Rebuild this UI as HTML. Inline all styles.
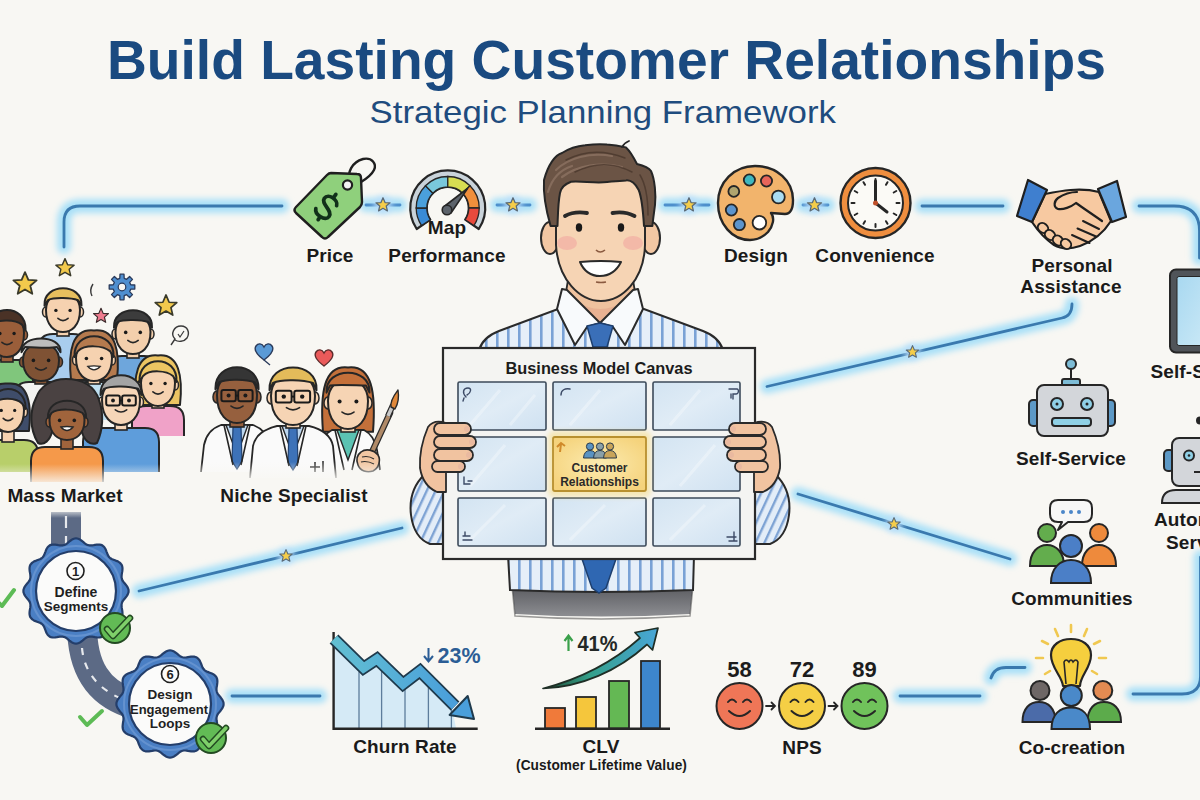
<!DOCTYPE html>
<html><head><meta charset="utf-8"><title>Build Lasting Customer Relationships</title>
<style>
html,body{margin:0;padding:0;background:#f8f7f3;width:1200px;height:800px;overflow:hidden}
svg{display:block}
text{font-family:"Liberation Sans",sans-serif}
.lb{font-weight:bold;fill:#1a1a1a;font-size:19px;text-anchor:middle;letter-spacing:0.1px}
.gl{fill:none;stroke:#a9e0f8;stroke-width:14;stroke-linecap:round;opacity:1}
.ln{fill:none;stroke:#3a79ae;stroke-width:2.8;stroke-linecap:round}
.ol{stroke:#2a2a2a;stroke-width:2;stroke-linejoin:round;stroke-linecap:round}
</style></head><body>
<svg width="1200" height="800" viewBox="0 0 1200 800">
<defs>
 <filter id="blur" x="-20%" y="-50%" width="140%" height="200%"><feGaussianBlur stdDeviation="2.5"/></filter>
 <filter id="blurL" x="-5%" y="-5%" width="110%" height="110%" filterUnits="userSpaceOnUse"><feGaussianBlur stdDeviation="3"/></filter>
 <filter id="blur6" x="-30%" y="-30%" width="160%" height="160%"><feGaussianBlur stdDeviation="6"/></filter>
 <symbol id="star2" viewBox="-10 -10 20 20"><path d="M0,-8.5 L2.4,-2.9 8.3,-2.6 3.8,1.2 5.2,7 0,3.9 -5.2,7 -3.8,1.2 -8.3,-2.6 -2.4,-2.9Z" fill="#f5cd4a" stroke="#5b6b78" stroke-width="1.5" stroke-linejoin="round"/></symbol>
 <symbol id="star" viewBox="-10 -10 20 20"><path d="M0,-8.5 L2.4,-2.9 8.3,-2.6 3.8,1.2 5.2,7 0,3.9 -5.2,7 -3.8,1.2 -8.3,-2.6 -2.4,-2.9Z" fill="#f2c94c" stroke="#3a3a2a" stroke-width="1.3" stroke-linejoin="round"/></symbol>
</defs>
<rect width="1200" height="800" fill="#f8f7f3"/>

<!-- TITLE -->
<text x="107" y="79" font-size="56" font-weight="bold" fill="#1a4a80" textLength="999" lengthAdjust="spacingAndGlyphs">Build Lasting Customer Relationships</text>
<text x="369.5" y="123" font-size="32" fill="#1f4c7e" textLength="466.5" lengthAdjust="spacingAndGlyphs">Strategic Planning Framework</text>

<!-- CONNECTOR LINES (glow + line) -->
<g id="lines">
 <g filter="url(#blurL)">
  <path class="gl" d="M64,247 V222 Q64,206 80,206 H282"/>
  <path class="gl" d="M366,205 H400 M497,205 H530 M665,205 H709 M803,205 H828"/>
  <path class="gl" d="M922,206 H1003"/>
  <path class="gl" d="M1139,206 H1174 Q1199.5,206 1199.5,231 V258"/>
  <path class="gl" d="M1072,304 Q1072,316 1062,318 L767,386.5"/>
  <path class="gl" d="M798,494 L1010,559"/>
  <path class="gl" d="M139,591 L402,528"/>
  <path class="gl" d="M232,696 H320"/>
  <path class="gl" d="M900,696 H980 M991,678 Q994,667.5 1006,667.5 H1025"/>
  <path class="gl" d="M1133,694 H1182 Q1200.5,694 1200.5,676 V557"/>
 </g>
 <path class="ln" d="M64,247 V222 Q64,206 80,206 H282"/>
 <path class="ln" d="M366,205 H400 M497,205 H530 M665,205 H709 M803,205 H828" stroke-width="1.8" style="stroke:#4d8fcc"/>
 <path class="ln" d="M922,206 H1003"/>
 <path class="ln" d="M1139,206 H1174 Q1199.5,206 1199.5,231 V258"/>
 <path class="ln" d="M1072,304 Q1072,316 1062,318 L767,386.5"/>
 <path class="ln" d="M798,494 L1010,559"/>
 <path class="ln" d="M139,591 L402,528"/>
 <path class="ln" d="M232,696 H320"/>
 <path class="ln" d="M900,696 H980 M991,678 Q994,667.5 1006,667.5 H1025"/>
 <path class="ln" d="M1133,694 H1182 Q1200.5,694 1200.5,676 V557"/>
</g>
<!-- stars on lines -->
<g filter="url(#blurL)" fill="#b9defa">
 <circle cx="383" cy="205" r="9"/><circle cx="513" cy="205" r="9"/><circle cx="689" cy="205" r="9"/><circle cx="814.5" cy="205" r="9"/>
 <circle cx="912.5" cy="352" r="8"/><circle cx="894" cy="524" r="8"/><circle cx="286" cy="556" r="8"/>
</g>
<use href="#star2" x="374.5" y="196.5" width="17" height="17"/>
<use href="#star2" x="504.5" y="196.5" width="17" height="17"/>
<use href="#star2" x="680.5" y="196.5" width="17" height="17"/>
<use href="#star2" x="806" y="196.5" width="17" height="17"/>
<use href="#star2" x="905" y="344.5" width="15" height="15"/>
<use href="#star2" x="886.5" y="516.5" width="15" height="15"/>
<use href="#star2" x="278.5" y="548.5" width="15" height="15"/>

<!-- PRICE TAG -->
<g id="tag" stroke="#1f1f1f" stroke-linejoin="round" stroke-linecap="round">
 <path d="M349,184 C347,172 352,162 363,159 C372,157 377,164 374,170 C371,176 366,179 361,182" fill="none" stroke-width="2.4"/>
 <path d="M331,173 L357,174 Q361,174 361,178 L362,202 Q362,205 360,207 L328,237 Q325,240 322,237 L296,213 Q293,210 296,207 L327,175 Q329,173 331,173 Z" fill="#8fd07c" stroke-width="2.4"/>
 <circle cx="347.5" cy="185" r="4.6" fill="#f4f1f4" stroke-width="2.2"/>
 <path transform="translate(327,207) rotate(35) scale(1.1)" d="M6.5,-6 C5,-11 -6.5,-11.5 -6.5,-5 C-6.5,1 6.5,-0.5 6.5,6 C6.5,12 -5.5,12 -7.5,7 M0,-14 V-10 M0,10.5 V14" fill="none" stroke="#11301a" stroke-width="3.4"/>
</g>
<!-- GAUGE -->
<g id="gauge">
<path d="M416.7,229.0 A37.5,37.5 0 1 1 478.8,229.0 L465.2,219.7 A21,21 0 1 0 430.3,219.7 Z" fill="#c9d3da" stroke="#262626" stroke-width="2.2" stroke-linejoin="round"/>
<path d="M421.6,225.6 A31.5,31.5 0 0 1 416.2,208.0 L426.8,208.0 A21,21 0 0 0 430.3,219.7 Z" fill="#3a8bd6" stroke="#262626" stroke-width="1.3"/>
<path d="M416.2,208.0 A31.5,31.5 0 0 1 425.5,185.7 L432.9,193.2 A21,21 0 0 0 426.8,208.0 Z" fill="#4aa0dc" stroke="#262626" stroke-width="1.3"/>
<path d="M425.5,185.7 A31.5,31.5 0 0 1 447.8,176.5 L447.8,187.0 A21,21 0 0 0 432.9,193.2 Z" fill="#79c8dc" stroke="#262626" stroke-width="1.3"/>
<path d="M447.8,176.5 A31.5,31.5 0 0 1 470.0,185.7 L462.6,193.2 A21,21 0 0 0 447.8,187.0 Z" fill="#d7dd52" stroke="#262626" stroke-width="1.3"/>
<path d="M470.0,185.7 A31.5,31.5 0 0 1 479.2,208.0 L468.8,208.0 A21,21 0 0 0 462.6,193.2 Z" fill="#f08f3c" stroke="#262626" stroke-width="1.3"/>
<path d="M479.2,208.0 A31.5,31.5 0 0 1 473.9,225.6 L465.2,219.7 A21,21 0 0 0 468.8,208.0 Z" fill="#e84a3c" stroke="#262626" stroke-width="1.3"/>
<path d="M443.5,207 L467.5,188.5 L451,213 Z" fill="#5c636b" stroke="#262626" stroke-width="1.6" stroke-linejoin="round"/>
<circle cx="447" cy="210" r="4.8" fill="#5c636b" stroke="#262626" stroke-width="1.6"/>
</g>
<!-- PALETTE -->
<g id="palette">
 <path d="M755,166 C777,166 793,181 793,200 C793,209 790,214 785,214 L771,213 C775,218 773,226 768,232 C762,238 757,240 750,240 C732,240 718,224 718,203 C718,182 734,166 755,166 Z" fill="#f2b46c" stroke="#262626" stroke-width="2.4" stroke-linejoin="round"/>
 <g stroke="#262626" stroke-width="1.8">
  <circle cx="749.4" cy="180" r="5.6" fill="#3fb7bf"/>
  <circle cx="766.5" cy="181" r="5.6" fill="#e8655a"/>
  <circle cx="733.8" cy="191.4" r="5.4" fill="#b0a46e"/>
  <circle cx="778.4" cy="197" r="6.4" fill="#a9dcf2"/>
  <circle cx="731.4" cy="210" r="5.6" fill="#5c94cc"/>
  <circle cx="739.4" cy="224.6" r="5.6" fill="#5c94cc"/>
  <circle cx="759.4" cy="222.7" r="6.8" fill="#ffffff"/>
 </g>
</g>
<!-- CLOCK -->
<g id="clock">
 <circle cx="875.5" cy="203" r="35" fill="#ef8e3f" stroke="#262626" stroke-width="2.4"/>
 <circle cx="875.5" cy="203" r="27.5" fill="#fbfaf6" stroke="#262626" stroke-width="2"/>
 <g stroke="#262626" stroke-width="2" stroke-linecap="round">
  <path d="M875.5,179 v3 M875.5,224 v3 M851.5,203 h3 M896.5,203 h3 M887.5,182.2 l-1.5,2.6 M896.3,191 l-2.6,1.5 M896.3,215 l-2.6,-1.5 M887.5,223.8 l-1.5,-2.6 M863.5,223.8 l1.5,-2.6 M854.7,215 l2.6,-1.5 M854.7,191 l2.6,1.5 M863.5,182.2 l1.5,2.6"/>
  <path d="M875.5,203 V181" stroke-width="3"/>
  <path d="M875.5,203 L887,212" stroke-width="3"/>
 </g>
 <circle cx="875.5" cy="203" r="2.5" fill="#c0502a"/>
</g>
<!-- HANDSHAKE -->
<g id="handshake" stroke="#1f1f1f" stroke-width="2.2" stroke-linejoin="round" stroke-linecap="round">
 <path d="M1045,194 C1060,191 1080,187 1099,192 L1111,221 C1104,232 1094,241 1080,246 C1071,249 1061,249 1054,245 C1045,239 1038,231 1032,222 Z" fill="#f7c9a1"/>
 <path d="M1102,221 C1092,214 1083,208 1076,203 C1071,207 1063,210 1058,209 C1053,207 1054,201 1058,198 C1064,194 1070,192 1077,192" fill="#f7c9a1"/>
 <g fill="#f7c9a1" stroke-width="2">
  <ellipse cx="1043" cy="228" rx="5.5" ry="4.6" transform="rotate(40 1043 228)"/>
  <ellipse cx="1050" cy="235" rx="5.5" ry="4.6" transform="rotate(40 1050 235)"/>
  <ellipse cx="1058" cy="240.5" rx="5.5" ry="4.6" transform="rotate(40 1058 240.5)"/>
  <ellipse cx="1066" cy="244" rx="5.5" ry="4.6" transform="rotate(40 1066 244)"/>
 </g>
 <path d="M1083,221 L1099,229 M1077.5,228.5 L1096,236.5 M1072,235 L1089.5,243" fill="none" stroke-width="2"/>
 <path d="M1028,180 L1047,190 L1032,222 L1017,216 Z" fill="#3f7fcf"/>
 <path d="M1098,189 L1117,181 L1126,217 L1112,222 Z" fill="#6aa6de"/>
</g>
<!-- MONITOR (right edge) -->
<g id="monitor">
 <defs><linearGradient id="scr" x1="0" y1="0" x2="1" y2="1"><stop offset="0" stop-color="#a8d8f0"/><stop offset="1" stop-color="#cdeaf7"/></linearGradient></defs>
 <rect x="1170" y="269.5" width="45" height="83" rx="6" fill="#505459" stroke="#262626" stroke-width="2"/>
 <rect x="1177" y="276.5" width="35" height="69" rx="2" fill="url(#scr)" stroke="#262626" stroke-width="1"/>
</g>

<!-- CROWD -->
<g id="crowd"><!--CROWD_START-->
<g><path d="M-19.0,400 V374.0 Q-19.0,360.0 -5.0,360.0 H19.0 Q33.0,360.0 33.0,374.0 V400" fill="#80c67c" stroke="#262626" stroke-width="2" stroke-linejoin="round"/><rect x="1" y="353" width="12" height="9" fill="#9a5e3a" stroke="#262626" stroke-width="1.6"/><ellipse cx="-10" cy="335" rx="3.5" ry="5" fill="#9a5e3a" stroke="#262626" stroke-width="1.5"/><ellipse cx="24" cy="335" rx="3.5" ry="5" fill="#9a5e3a" stroke="#262626" stroke-width="1.5"/><path d="M-10.0,333.0 C-10.0,307.8 24.0,307.8 24.0,333.0 C24.0,351.0 14.7,357.0 7.0,357.0 C-0.7,357.0 -10.0,351.0 -10.0,333.0 Z" fill="#9a5e3a" stroke="#262626" stroke-width="2"/><path d="M-11.5,330.6 C-13.0,303.0 27.0,303.0 25.5,330.6 L22.0,324.6 C15.5,319.8 -1.5,318.6 -8.0,324.6 Z" fill="#4a3226" stroke="#262626" stroke-width="2" stroke-linejoin="round"/><circle cx="-0.1" cy="333.5" r="1.7" fill="#1a1a1a"/><circle cx="14.1" cy="333.5" r="1.7" fill="#1a1a1a"/><path d="M1.9,342.3 Q7.0,346.8 12.1,342.3" fill="none" stroke="#262626" stroke-width="1.6" stroke-linecap="round"/></g>
<g><path d="M39.0,390 V348.0 Q39.0,334.0 53.0,334.0 H73.0 Q87.0,334.0 87.0,348.0 V390" fill="#a9cdee" stroke="#262626" stroke-width="2" stroke-linejoin="round"/><rect x="57" y="328" width="12" height="8" fill="#f6d2b0" stroke="#262626" stroke-width="1.6"/><ellipse cx="46" cy="312" rx="3.5" ry="5" fill="#f6d2b0" stroke="#262626" stroke-width="1.5"/><ellipse cx="80" cy="312" rx="3.5" ry="5" fill="#f6d2b0" stroke="#262626" stroke-width="1.5"/><path d="M46.0,310.0 C46.0,286.9 80.0,286.9 80.0,310.0 C80.0,326.5 70.7,332.0 63.0,332.0 C55.4,332.0 46.0,326.5 46.0,310.0 Z" fill="#f6d2b0" stroke="#262626" stroke-width="2"/><path d="M44.5,305.6 C43.0,282.5 83.0,282.5 81.5,305.6 L78.0,300.1 C71.5,297.9 54.5,296.8 48.0,300.1 Z" fill="#e7bf5e" stroke="#262626" stroke-width="2" stroke-linejoin="round"/><circle cx="55.9" cy="310.4" r="1.7" fill="#1a1a1a"/><circle cx="70.1" cy="310.4" r="1.7" fill="#1a1a1a"/><path d="M57.9,318.4 Q63.0,322.9 68.1,318.4" fill="none" stroke="#262626" stroke-width="1.6" stroke-linecap="round"/></g>
<g><path d="M108.0,400 V370.0 Q108.0,356.0 122.0,356.0 H144.0 Q158.0,356.0 158.0,370.0 V400" fill="#6ea6dc" stroke="#262626" stroke-width="2" stroke-linejoin="round"/><rect x="127" y="350" width="12" height="8" fill="#f3cfac" stroke="#262626" stroke-width="1.6"/><ellipse cx="115.5" cy="334" rx="3.5" ry="5" fill="#f3cfac" stroke="#262626" stroke-width="1.5"/><ellipse cx="150.5" cy="334" rx="3.5" ry="5" fill="#f3cfac" stroke="#262626" stroke-width="1.5"/><path d="M115.5,332.0 C115.5,308.9 150.5,308.9 150.5,332.0 C150.5,348.5 140.9,354.0 133.0,354.0 C125.1,354.0 115.5,348.5 115.5,332.0 Z" fill="#f3cfac" stroke="#262626" stroke-width="2"/><path d="M114.0,327.6 C112.5,304.5 153.5,304.5 152.0,327.6 L148.5,322.1 C141.8,319.9 124.2,318.8 117.5,322.1 Z" fill="#3c3c3c" stroke="#262626" stroke-width="2" stroke-linejoin="round"/><circle cx="125.7" cy="332.4" r="1.8" fill="#1a1a1a"/><circle cx="140.3" cy="332.4" r="1.8" fill="#1a1a1a"/><path d="M127.8,340.4 Q133.0,344.9 138.2,340.4" fill="none" stroke="#262626" stroke-width="1.6" stroke-linecap="round"/></g>
<g><path d="M15.0,420 V396.0 Q15.0,382.0 29.0,382.0 H53.0 Q67.0,382.0 67.0,396.0 V420" fill="#f3f3f1" stroke="#262626" stroke-width="2" stroke-linejoin="round"/><rect x="35" y="377" width="12" height="7" fill="#7f5234" stroke="#262626" stroke-width="1.6"/><ellipse cx="23" cy="362" rx="3.5" ry="5" fill="#7f5234" stroke="#262626" stroke-width="1.5"/><ellipse cx="59" cy="362" rx="3.5" ry="5" fill="#7f5234" stroke="#262626" stroke-width="1.5"/><path d="M23.0,360.0 C23.0,337.9 59.0,337.9 59.0,360.0 C59.0,375.8 49.1,381.0 41.0,381.0 C32.9,381.0 23.0,375.8 23.0,360.0 Z" fill="#7f5234" stroke="#262626" stroke-width="2"/><path d="M21.5,352.2 C20.0,333.8 62.0,333.8 60.5,352.2 L57.0,347.0 C50.0,348.4 32.0,347.4 25.0,347.0 Z" fill="#bdbdbd" stroke="#262626" stroke-width="2" stroke-linejoin="round"/><circle cx="33.4" cy="360.4" r="1.8" fill="#1a1a1a"/><circle cx="48.6" cy="360.4" r="1.8" fill="#1a1a1a"/><path d="M35.6,367.9 Q41.0,372.4 46.4,367.9" fill="none" stroke="#262626" stroke-width="1.6" stroke-linecap="round"/></g>
<g><path d="M71.0,379.9 C68.0,351.1 72.0,328.1 94.0,330.4 C116.0,328.1 120.0,351.1 117.0,379.9 Z" fill="#b57a4e" stroke="#262626" stroke-width="2" stroke-linejoin="round"/><path d="M72.0,420 V396.0 Q72.0,382.0 86.0,382.0 H102.0 Q116.0,382.0 116.0,396.0 V420" fill="#bfe0f2" stroke="#262626" stroke-width="2" stroke-linejoin="round"/><rect x="88" y="377" width="12" height="7" fill="#f6d2b0" stroke="#262626" stroke-width="1.6"/><ellipse cx="76" cy="360" rx="3.5" ry="5" fill="#f6d2b0" stroke="#262626" stroke-width="1.5"/><ellipse cx="112" cy="360" rx="3.5" ry="5" fill="#f6d2b0" stroke="#262626" stroke-width="1.5"/><path d="M76.0,358.0 C76.0,333.9 112.0,333.9 112.0,358.0 C112.0,375.2 102.1,381.0 94.0,381.0 C85.9,381.0 76.0,375.2 76.0,358.0 Z" fill="#f6d2b0" stroke="#262626" stroke-width="2"/><path d="M74.5,356.9 C73.0,329.2 115.0,329.2 113.5,356.9 L110.0,351.1 C103.0,345.4 85.0,344.2 78.0,351.1 Z" fill="#b57a4e" stroke="#262626" stroke-width="2" stroke-linejoin="round"/><circle cx="86.4" cy="358.5" r="1.8" fill="#1a1a1a"/><circle cx="101.6" cy="358.5" r="1.8" fill="#1a1a1a"/><path d="M87.7,366.4 Q94.0,365.4 100.3,366.4 Q94.0,373.4 87.7,366.4 Z" fill="#fff" stroke="#262626" stroke-width="1.3"/></g>
<g><path d="M136.0,404.9 C133.0,376.1 137.0,353.1 158.0,355.4 C179.0,353.1 183.0,376.1 180.0,404.9 Z" fill="#ecc462" stroke="#262626" stroke-width="2" stroke-linejoin="round"/><path d="M132.0,436 V420.0 Q132.0,406.0 146.0,406.0 H170.0 Q184.0,406.0 184.0,420.0 V436" fill="#f0a2c8" stroke="#262626" stroke-width="2" stroke-linejoin="round"/><rect x="152" y="402" width="12" height="6" fill="#f6d2b0" stroke="#262626" stroke-width="1.6"/><ellipse cx="141" cy="385" rx="3.5" ry="5" fill="#f6d2b0" stroke="#262626" stroke-width="1.5"/><ellipse cx="175" cy="385" rx="3.5" ry="5" fill="#f6d2b0" stroke="#262626" stroke-width="1.5"/><path d="M141.0,383.0 C141.0,358.9 175.0,358.9 175.0,383.0 C175.0,400.2 165.7,406.0 158.0,406.0 C150.3,406.0 141.0,400.2 141.0,383.0 Z" fill="#f6d2b0" stroke="#262626" stroke-width="2"/><path d="M139.5,381.9 C138.0,354.2 178.0,354.2 176.5,381.9 L173.0,376.1 C166.5,370.4 149.5,369.2 143.0,376.1 Z" fill="#ecc462" stroke="#262626" stroke-width="2" stroke-linejoin="round"/><circle cx="150.9" cy="383.5" r="1.7" fill="#1a1a1a"/><circle cx="165.1" cy="383.5" r="1.7" fill="#1a1a1a"/><path d="M152.9,391.9 Q158.0,396.4 163.1,391.9" fill="none" stroke="#262626" stroke-width="1.6" stroke-linecap="round"/></g>
<g><path d="M-13.0,430.9 C-16.0,403.4 -12.0,381.4 8.0,383.6 C28.0,381.4 32.0,403.4 29.0,430.9 Z" fill="#3f4d6a" stroke="#262626" stroke-width="2" stroke-linejoin="round"/><path d="M-22.0,472 V454.0 Q-22.0,440.0 -8.0,440.0 H24.0 Q38.0,440.0 38.0,454.0 V472" fill="#b8cf6a" stroke="#262626" stroke-width="2" stroke-linejoin="round"/><rect x="2" y="428" width="12" height="14" fill="#f6d2b0" stroke="#262626" stroke-width="1.6"/><ellipse cx="-8" cy="412" rx="3.5" ry="5" fill="#f6d2b0" stroke="#262626" stroke-width="1.5"/><ellipse cx="24" cy="412" rx="3.5" ry="5" fill="#f6d2b0" stroke="#262626" stroke-width="1.5"/><path d="M-8.0,410.0 C-8.0,386.9 24.0,386.9 24.0,410.0 C24.0,426.5 15.2,432.0 8.0,432.0 C0.8,432.0 -8.0,426.5 -8.0,410.0 Z" fill="#f6d2b0" stroke="#262626" stroke-width="2"/><path d="M-9.5,408.9 C-11.0,382.5 27.0,382.5 25.5,408.9 L22.0,403.4 C16.0,397.9 0.0,396.8 -6.0,403.4 Z" fill="#3f4d6a" stroke="#262626" stroke-width="2" stroke-linejoin="round"/><circle cx="1.3" cy="410.4" r="1.6" fill="#1a1a1a"/><circle cx="14.7" cy="410.4" r="1.6" fill="#1a1a1a"/><path d="M3.2,418.4 Q8.0,422.9 12.8,418.4" fill="none" stroke="#262626" stroke-width="1.6" stroke-linecap="round"/></g>
<g><path d="M83.0,472 V442.0 Q83.0,428.0 97.0,428.0 H145.0 Q159.0,428.0 159.0,442.0 V472" fill="#5e9ddb" stroke="#262626" stroke-width="2" stroke-linejoin="round"/><rect x="115" y="421" width="12" height="9" fill="#f6d6b8" stroke="#262626" stroke-width="1.6"/><ellipse cx="102" cy="402" rx="3.5" ry="5" fill="#f6d6b8" stroke="#262626" stroke-width="1.5"/><ellipse cx="140" cy="402" rx="3.5" ry="5" fill="#f6d6b8" stroke="#262626" stroke-width="1.5"/><path d="M102.0,400.0 C102.0,373.8 140.0,373.8 140.0,400.0 C140.0,418.8 129.6,425.0 121.0,425.0 C112.5,425.0 102.0,418.8 102.0,400.0 Z" fill="#f6d6b8" stroke="#262626" stroke-width="2"/><path d="M100.5,395.0 C99.0,368.8 143.0,368.8 141.5,395.0 L138.0,388.8 C130.5,386.2 111.5,385.0 104.0,388.8 Z" fill="#a4a4a4" stroke="#262626" stroke-width="2" stroke-linejoin="round"/><circle cx="113.0" cy="400.5" r="1.9" fill="#1a1a1a"/><circle cx="129.0" cy="400.5" r="1.9" fill="#1a1a1a"/><path d="M115.3,409.8 Q121.0,414.2 126.7,409.8" fill="none" stroke="#262626" stroke-width="1.6" stroke-linecap="round"/><g fill="none" stroke="#1a1a1a" stroke-width="2"><rect x="106.2" y="395.5" width="13.7" height="10.0" rx="2"/><rect x="122.1" y="395.5" width="13.7" height="10.0" rx="2"/><path d="M119.9,400.5 H122.1"/></g></g>
<g><path d="M38,443 C29,428 30,410 36,398 C40,386 52,379 66,379 C82,379 95,386 99,400 C104,414 103,430 97,443 C90,446 84,440 82,432 L52,432 C50,440 44,446 38,443 Z" fill="#4a4242" stroke="#262626" stroke-width="2" stroke-linejoin="round"/><path d="M31.0,482 V461.0 Q31.0,447.0 45.0,447.0 H89.0 Q103.0,447.0 103.0,461.0 V482" fill="#f5994a" stroke="#262626" stroke-width="2" stroke-linejoin="round"/><rect x="61" y="436" width="12" height="13" fill="#a0643c" stroke="#262626" stroke-width="1.6"/><ellipse cx="49.5" cy="422" rx="3.5" ry="5" fill="#a0643c" stroke="#262626" stroke-width="1.5"/><ellipse cx="84.5" cy="422" rx="3.5" ry="5" fill="#a0643c" stroke="#262626" stroke-width="1.5"/><path d="M49.5,420.0 C49.5,399.0 84.5,399.0 84.5,420.0 C84.5,435.0 74.9,440.0 67.0,440.0 C59.1,440.0 49.5,435.0 49.5,420.0 Z" fill="#a0643c" stroke="#262626" stroke-width="2"/><path d="M48.0,418.0 C46.5,395.0 87.5,395.0 86.0,418.0 L82.5,413.0 C75.8,409.0 58.2,408.0 51.5,413.0 Z" fill="#4a4242" stroke="#262626" stroke-width="2" stroke-linejoin="round"/><circle cx="59.6" cy="420.4" r="1.8" fill="#1a1a1a"/><circle cx="74.3" cy="420.4" r="1.8" fill="#1a1a1a"/><path d="M60.9,427.0 Q67.0,426.0 73.1,427.0 Q67.0,434.0 60.9,427.0 Z" fill="#fff" stroke="#262626" stroke-width="1.3"/></g>
<use href="#star" x="11" y="270" width="28" height="28"/>
<use href="#star" x="54" y="257" width="22" height="22"/>
<use href="#star" x="153" y="293" width="26" height="26"/>
<path transform="translate(101,316) scale(0.9)" d="M0,-8.5 L2.4,-2.9 8.3,-2.6 3.8,1.2 5.2,7 0,3.9 -5.2,7 -3.8,1.2 -8.3,-2.6 -2.4,-2.9Z" fill="#ee7b8e" stroke="#3a2a2a" stroke-width="1.3" stroke-linejoin="round"/>
<path d="M130.7,284.8 L134.8,285.0 L134.8,289.0 L130.7,289.2 L129.7,291.6 L132.5,294.6 L129.6,297.5 L126.6,294.7 L124.2,295.7 L124.0,299.8 L120.0,299.8 L119.8,295.7 L117.4,294.7 L114.4,297.5 L111.5,294.6 L114.3,291.6 L113.3,289.2 L109.2,289.0 L109.2,285.0 L113.3,284.8 L114.3,282.4 L111.5,279.4 L114.4,276.5 L117.4,279.3 L119.8,278.3 L120.0,274.2 L124.0,274.2 L124.2,278.3 L126.6,279.3 L129.6,276.5 L132.5,279.4 L129.7,282.4 Z" fill="#4f8fd0" stroke="#2a3a5a" stroke-width="1.3" stroke-linejoin="round"/><circle cx="122" cy="287" r="3.8" fill="#f8f7f3" stroke="#2a3a5a" stroke-width="1.2"/>
<path d="M171,345 L175,339 C170,334 174,326 181,326 C188,326 190,333 187,338 C184,342 178,342 175,340" fill="#f8f7f3" stroke="#3a3a3a" stroke-width="1.4"/><path d="M178,334 L180,337 L184,331" fill="none" stroke="#3a3a3a" stroke-width="1.2"/>
<path d="M93,284 Q89,290 92,296" fill="none" stroke="#3a3a3a" stroke-width="1.4"/>
<!--CROWD_END--></g>
<rect x="0" y="464" width="195" height="22" fill="url(#fadeUp)"/>
<g id="niche"><!--NICHE_START-->
<g><path d="M201.0,472 L204.0,445 Q207.0,430 221,425 H253 Q267.0,430 270.0,445 L273.0,472" fill="#fafafa" stroke="#262626" stroke-width="1.8" stroke-linejoin="round"/><path d="M226,425 L237,455 L248,425 Z" fill="#bcd6ee" stroke="#262626" stroke-width="1.4"/><path d="M233,427 L241,427 L242,461 L237,469 L232,461 Z" fill="#3d72b8" stroke="#1e3f6e" stroke-width="1.2"/><path d="M224,425 L233,465 M250,425 L241,465" stroke="#262626" stroke-width="1.6" fill="none"/><rect x="230" y="418" width="14" height="9" fill="#96603e" stroke="#262626" stroke-width="1.6"/><ellipse cx="217" cy="397" rx="4" ry="6" fill="#96603e" stroke="#262626" stroke-width="1.5"/><ellipse cx="257" cy="397" rx="4" ry="6" fill="#96603e" stroke="#262626" stroke-width="1.5"/><path d="M217.0,395.0 C217.0,365.6 257.0,365.6 257.0,395.0 C257.0,416.0 246.0,423.0 237.0,423.0 C228.0,423.0 217.0,416.0 217.0,395.0 Z" fill="#96603e" stroke="#262626" stroke-width="2"/><path d="M215.5,389.4 C214.0,360.0 260.0,360.0 258.5,389.4 L255.0,382.4 C247.0,379.6 227.0,378.2 219.0,382.4 Z" fill="#353535" stroke="#262626" stroke-width="2" stroke-linejoin="round"/><circle cx="228.6" cy="395.6" r="2.0" fill="#1a1a1a"/><circle cx="245.4" cy="395.6" r="2.0" fill="#1a1a1a"/><path d="M231.0,406.1 Q237.0,410.6 243.0,406.1" fill="none" stroke="#262626" stroke-width="1.6" stroke-linecap="round"/><g fill="none" stroke="#1a1a1a" stroke-width="2"><rect x="221.4" y="390.0" width="14.4" height="11.2" rx="2"/><rect x="238.2" y="390.0" width="14.4" height="11.2" rx="2"/><path d="M235.8,395.6 H238.2"/></g></g>
<g><path d="M323.0,431.8 C320.0,392.6 324.0,364.6 348.0,367.4 C372.0,364.6 376.0,392.6 373.0,431.8 Z" fill="#c4703a" stroke="#262626" stroke-width="2" stroke-linejoin="round"/><path d="M316.0,470 L319.0,450 Q322.0,435 332,430 H364 Q374.0,435 377.0,450 L380.0,470" fill="#fafafa" stroke="#262626" stroke-width="1.8" stroke-linejoin="round"/><path d="M337,430 L348,460 L359,430 Z" fill="#5cc2b2" stroke="#262626" stroke-width="1.4"/><path d="M335,430 L344,470 M361,430 L352,470" stroke="#262626" stroke-width="1.6" fill="none"/><rect x="341" y="424" width="14" height="8" fill="#f6d4b4" stroke="#262626" stroke-width="1.6"/><ellipse cx="328" cy="403" rx="4" ry="6" fill="#f6d4b4" stroke="#262626" stroke-width="1.5"/><ellipse cx="368" cy="403" rx="4" ry="6" fill="#f6d4b4" stroke="#262626" stroke-width="1.5"/><path d="M328.0,401.0 C328.0,371.6 368.0,371.6 368.0,401.0 C368.0,422.0 357.0,429.0 348.0,429.0 C339.0,429.0 328.0,422.0 328.0,401.0 Z" fill="#f6d4b4" stroke="#262626" stroke-width="2"/><path d="M326.5,392.6 C325.0,366.0 371.0,366.0 369.5,392.6 L366.0,385.6 C358.0,385.6 338.0,384.2 330.0,385.6 Z" fill="#c4703a" stroke="#262626" stroke-width="2" stroke-linejoin="round"/><circle cx="339.6" cy="401.6" r="2.0" fill="#1a1a1a"/><circle cx="356.4" cy="401.6" r="2.0" fill="#1a1a1a"/><path d="M342.0,412.1 Q348.0,416.6 354.0,412.1" fill="none" stroke="#262626" stroke-width="1.6" stroke-linecap="round"/></g>
<g><path d="M250.0,478 L253.0,446 Q256.0,431 277,426 H309 Q330.0,431 333.0,446 L336.0,478" fill="#fafafa" stroke="#262626" stroke-width="1.8" stroke-linejoin="round"/><path d="M282,426 L293,456 L304,426 Z" fill="#bcd6ee" stroke="#262626" stroke-width="1.4"/><path d="M289,428 L297,428 L298,462 L293,470 L288,462 Z" fill="#3d72b8" stroke="#1e3f6e" stroke-width="1.2"/><path d="M280,426 L289,466 M306,426 L297,466" stroke="#262626" stroke-width="1.6" fill="none"/><rect x="286" y="420" width="14" height="8" fill="#f6d4b4" stroke="#262626" stroke-width="1.6"/><ellipse cx="271" cy="398" rx="4" ry="6" fill="#f6d4b4" stroke="#262626" stroke-width="1.5"/><ellipse cx="315" cy="398" rx="4" ry="6" fill="#f6d4b4" stroke="#262626" stroke-width="1.5"/><path d="M271.0,396.0 C271.0,365.6 315.0,365.6 315.0,396.0 C315.0,417.8 302.9,425.0 293.0,425.0 C283.1,425.0 271.0,417.8 271.0,396.0 Z" fill="#f6d4b4" stroke="#262626" stroke-width="2"/><path d="M269.5,390.2 C268.0,359.8 318.0,359.8 316.5,390.2 L313.0,382.9 C304.0,380.1 282.0,378.6 273.0,382.9 Z" fill="#e3bb5a" stroke="#262626" stroke-width="2" stroke-linejoin="round"/><circle cx="283.8" cy="396.6" r="2.2" fill="#1a1a1a"/><circle cx="302.2" cy="396.6" r="2.2" fill="#1a1a1a"/><path d="M286.4,407.6 Q293.0,412.1 299.6,407.6" fill="none" stroke="#262626" stroke-width="1.6" stroke-linecap="round"/><g fill="none" stroke="#1a1a1a" stroke-width="2"><rect x="275.8" y="390.8" width="15.8" height="11.6" rx="2"/><rect x="294.3" y="390.8" width="15.8" height="11.6" rx="2"/><path d="M291.7,396.6 H294.3"/></g></g>
<path transform="translate(264,352)" d="M0,8 C-8,2 -10,-3 -8,-6 C-6,-9 -2,-9 0,-5 C2,-9 6,-9 8,-6 C10,-3 8,2 0,8 Z" fill="#5a9ad6" stroke="#2a3a5a" stroke-width="1.4"/><path d="M264,360 L270,365" stroke="#2a3a5a" stroke-width="1.3"/>
<path transform="translate(324,358)" d="M0,8 C-8,2 -10,-3 -8,-6 C-6,-9 -2,-9 0,-5 C2,-9 6,-9 8,-6 C10,-3 8,2 0,8 Z" fill="#ea5a5a" stroke="#5a2a2a" stroke-width="1.4"/>
<path d="M365,467 L390,413" stroke="#2a2a2a" stroke-width="6.5" stroke-linecap="round"/><path d="M365,467 L390,413" stroke="#b08a68" stroke-width="4" stroke-linecap="round"/><path d="M388,416 L393,405" stroke="#2a2a2a" stroke-width="6" /><path d="M388,416 L393,405" stroke="#c9c9c9" stroke-width="3.6"/><path d="M391,407 C390,400 395,394 398,390 C399,396 398,404 395,409 Z" fill="#e0883a" stroke="#2a2a2a" stroke-width="1.4" stroke-linejoin="round"/>
<path d="M361,452 C366,448 374,450 378,455 C381,460 379,468 373,471 C367,473 360,471 358,465 C356,460 357,455 361,452 Z" fill="#f2c7a3" stroke="#2a2a2a" stroke-width="1.6"/><path d="M362,457 C366,456 371,457 374,459 M361,462 C365,461 370,462 374,464" fill="none" stroke="#2a2a2a" stroke-width="1.1"/>
<path d="M310,467 H320 M315,462 V472 M323,461 V472" stroke="#2a2a2a" stroke-width="1.5"/>
<!--NICHE_END--></g>
<!-- ROAD + BADGES -->
<g id="badges"><!--BADGES_START-->
<path d="M66,512 V560" stroke="#5c6a85" stroke-width="30" fill="none"/>
<path d="M66,516 V528 M66,536 V548" stroke="#ffffff" stroke-width="2.2" opacity=".85"/>
<path d="M82,625 C82,668 98,692 130,703" stroke="#5c6a85" stroke-width="30" fill="none"/>
<path d="M82,648 C84,670 96,688 122,699" stroke="#ffffff" stroke-width="2.2" stroke-dasharray="7 8" fill="none" opacity=".85"/>
<rect x="48" y="508" width="40" height="10" fill="url(#fadeDown)"/>
<path d="M128.6,591.0 L128.5,592.4 L128.0,593.7 L127.4,595.0 L126.5,596.3 L125.6,597.5 L124.6,598.7 L123.7,599.8 L122.8,601.0 L122.2,602.1 L121.8,603.3 L121.6,604.5 L121.6,605.8 L121.7,607.2 L121.9,608.6 L122.2,610.1 L122.4,611.7 L122.5,613.2 L122.4,614.7 L122.1,616.0 L121.6,617.3 L120.7,618.4 L119.7,619.4 L118.5,620.2 L117.1,620.9 L115.7,621.4 L114.2,622.0 L112.9,622.5 L111.6,623.0 L110.5,623.7 L109.5,624.5 L108.7,625.5 L108.0,626.6 L107.5,627.9 L107.0,629.2 L106.4,630.7 L105.9,632.1 L105.2,633.5 L104.4,634.7 L103.4,635.7 L102.3,636.6 L101.0,637.1 L99.7,637.4 L98.2,637.5 L96.7,637.4 L95.1,637.2 L93.6,636.9 L92.2,636.7 L90.8,636.6 L89.5,636.6 L88.3,636.8 L87.1,637.2 L86.0,637.8 L84.8,638.7 L83.7,639.6 L82.5,640.6 L81.3,641.5 L80.0,642.4 L78.7,643.0 L77.4,643.5 L76.0,643.6 L74.6,643.5 L73.3,643.0 L72.0,642.4 L70.7,641.5 L69.5,640.6 L68.3,639.6 L67.2,638.7 L66.0,637.8 L64.9,637.2 L63.7,636.8 L62.5,636.6 L61.2,636.6 L59.8,636.7 L58.4,636.9 L56.9,637.2 L55.3,637.4 L53.8,637.5 L52.3,637.4 L51.0,637.1 L49.7,636.6 L48.6,635.7 L47.6,634.7 L46.8,633.5 L46.1,632.1 L45.6,630.7 L45.0,629.2 L44.5,627.9 L44.0,626.6 L43.3,625.5 L42.5,624.5 L41.5,623.7 L40.4,623.0 L39.1,622.5 L37.8,622.0 L36.3,621.4 L34.9,620.9 L33.5,620.2 L32.3,619.4 L31.3,618.4 L30.4,617.3 L29.9,616.0 L29.6,614.7 L29.5,613.2 L29.6,611.7 L29.8,610.1 L30.1,608.6 L30.3,607.2 L30.4,605.8 L30.4,604.5 L30.2,603.3 L29.8,602.1 L29.2,601.0 L28.3,599.8 L27.4,598.7 L26.4,597.5 L25.5,596.3 L24.6,595.0 L24.0,593.7 L23.5,592.4 L23.4,591.0 L23.5,589.6 L24.0,588.3 L24.6,587.0 L25.5,585.7 L26.4,584.5 L27.4,583.3 L28.3,582.2 L29.2,581.0 L29.8,579.9 L30.2,578.7 L30.4,577.5 L30.4,576.2 L30.3,574.8 L30.1,573.4 L29.8,571.9 L29.6,570.3 L29.5,568.8 L29.6,567.3 L29.9,566.0 L30.4,564.7 L31.3,563.6 L32.3,562.6 L33.5,561.8 L34.9,561.1 L36.3,560.6 L37.8,560.0 L39.1,559.5 L40.4,559.0 L41.5,558.3 L42.5,557.5 L43.3,556.5 L44.0,555.4 L44.5,554.1 L45.0,552.8 L45.6,551.3 L46.1,549.9 L46.8,548.5 L47.6,547.3 L48.6,546.3 L49.7,545.4 L51.0,544.9 L52.3,544.6 L53.8,544.5 L55.3,544.6 L56.9,544.8 L58.4,545.1 L59.8,545.3 L61.2,545.4 L62.5,545.4 L63.7,545.2 L64.9,544.8 L66.0,544.2 L67.2,543.3 L68.3,542.4 L69.5,541.4 L70.7,540.5 L72.0,539.6 L73.3,539.0 L74.6,538.5 L76.0,538.4 L77.4,538.5 L78.7,539.0 L80.0,539.6 L81.3,540.5 L82.5,541.4 L83.7,542.4 L84.8,543.3 L86.0,544.2 L87.1,544.8 L88.3,545.2 L89.5,545.4 L90.8,545.4 L92.2,545.3 L93.6,545.1 L95.1,544.8 L96.7,544.6 L98.2,544.5 L99.7,544.6 L101.0,544.9 L102.3,545.4 L103.4,546.3 L104.4,547.3 L105.2,548.5 L105.9,549.9 L106.4,551.3 L107.0,552.8 L107.5,554.1 L108.0,555.4 L108.7,556.5 L109.5,557.5 L110.5,558.3 L111.6,559.0 L112.9,559.5 L114.2,560.0 L115.7,560.6 L117.1,561.1 L118.5,561.8 L119.7,562.6 L120.7,563.6 L121.6,564.7 L122.1,566.0 L122.4,567.3 L122.5,568.8 L122.4,570.3 L122.2,571.9 L121.9,573.4 L121.7,574.8 L121.6,576.2 L121.6,577.5 L121.8,578.7 L122.2,579.9 L122.8,581.0 L123.7,582.2 L124.6,583.3 L125.6,584.5 L126.5,585.7 L127.4,587.0 L128.0,588.3 L128.5,589.6 Z" fill="#4a7fc4" stroke="#243e6a" stroke-width="2.2" stroke-linejoin="round"/><circle cx="76" cy="591" r="45" fill="none" stroke="#6f9ad4" stroke-width="2" opacity=".7"/><circle cx="76" cy="591" r="40" fill="#fbfbfa" stroke="#243e6a" stroke-width="2.2"/>
<path d="M223.6,704.0 L223.5,705.4 L223.0,706.8 L222.4,708.1 L221.5,709.4 L220.6,710.7 L219.6,711.9 L218.6,713.0 L217.8,714.2 L217.2,715.3 L216.8,716.5 L216.5,717.8 L216.5,719.1 L216.6,720.5 L216.9,722.0 L217.1,723.5 L217.3,725.1 L217.4,726.6 L217.3,728.1 L217.0,729.5 L216.4,730.8 L215.6,731.9 L214.5,732.9 L213.3,733.8 L211.9,734.4 L210.5,735.0 L209.0,735.6 L207.6,736.1 L206.3,736.7 L205.2,737.4 L204.2,738.2 L203.4,739.2 L202.7,740.3 L202.1,741.6 L201.6,743.0 L201.0,744.5 L200.4,745.9 L199.8,747.3 L198.9,748.5 L197.9,749.6 L196.8,750.4 L195.5,751.0 L194.1,751.3 L192.6,751.4 L191.1,751.3 L189.5,751.1 L188.0,750.9 L186.5,750.6 L185.1,750.5 L183.8,750.5 L182.5,750.8 L181.3,751.2 L180.2,751.8 L179.0,752.6 L177.9,753.6 L176.7,754.6 L175.4,755.5 L174.1,756.4 L172.8,757.0 L171.4,757.5 L170.0,757.6 L168.6,757.5 L167.2,757.0 L165.9,756.4 L164.6,755.5 L163.3,754.6 L162.1,753.6 L161.0,752.6 L159.8,751.8 L158.7,751.2 L157.5,750.8 L156.2,750.5 L154.9,750.5 L153.5,750.6 L152.0,750.9 L150.5,751.1 L148.9,751.3 L147.4,751.4 L145.9,751.3 L144.5,751.0 L143.2,750.4 L142.1,749.6 L141.1,748.5 L140.2,747.3 L139.6,745.9 L139.0,744.5 L138.4,743.0 L137.9,741.6 L137.3,740.3 L136.6,739.2 L135.8,738.2 L134.8,737.4 L133.7,736.7 L132.4,736.1 L131.0,735.6 L129.5,735.0 L128.1,734.4 L126.7,733.8 L125.5,732.9 L124.4,731.9 L123.6,730.8 L123.0,729.5 L122.7,728.1 L122.6,726.6 L122.7,725.1 L122.9,723.5 L123.1,722.0 L123.4,720.5 L123.5,719.1 L123.5,717.8 L123.2,716.5 L122.8,715.3 L122.2,714.2 L121.4,713.0 L120.4,711.9 L119.4,710.7 L118.5,709.4 L117.6,708.1 L117.0,706.8 L116.5,705.4 L116.4,704.0 L116.5,702.6 L117.0,701.2 L117.6,699.9 L118.5,698.6 L119.4,697.3 L120.4,696.1 L121.4,695.0 L122.2,693.8 L122.8,692.7 L123.2,691.5 L123.5,690.2 L123.5,688.9 L123.4,687.5 L123.1,686.0 L122.9,684.5 L122.7,682.9 L122.6,681.4 L122.7,679.9 L123.0,678.5 L123.6,677.2 L124.4,676.1 L125.5,675.1 L126.7,674.2 L128.1,673.6 L129.5,673.0 L131.0,672.4 L132.4,671.9 L133.7,671.3 L134.8,670.6 L135.8,669.8 L136.6,668.8 L137.3,667.7 L137.9,666.4 L138.4,665.0 L139.0,663.5 L139.6,662.1 L140.2,660.7 L141.1,659.5 L142.1,658.4 L143.2,657.6 L144.5,657.0 L145.9,656.7 L147.4,656.6 L148.9,656.7 L150.5,656.9 L152.0,657.1 L153.5,657.4 L154.9,657.5 L156.2,657.5 L157.5,657.2 L158.7,656.8 L159.8,656.2 L161.0,655.4 L162.1,654.4 L163.3,653.4 L164.6,652.5 L165.9,651.6 L167.2,651.0 L168.6,650.5 L170.0,650.4 L171.4,650.5 L172.8,651.0 L174.1,651.6 L175.4,652.5 L176.7,653.4 L177.9,654.4 L179.0,655.4 L180.2,656.2 L181.3,656.8 L182.5,657.2 L183.8,657.5 L185.1,657.5 L186.5,657.4 L188.0,657.1 L189.5,656.9 L191.1,656.7 L192.6,656.6 L194.1,656.7 L195.5,657.0 L196.8,657.6 L197.9,658.4 L198.9,659.5 L199.8,660.7 L200.4,662.1 L201.0,663.5 L201.6,665.0 L202.1,666.4 L202.7,667.7 L203.4,668.8 L204.2,669.8 L205.2,670.6 L206.3,671.3 L207.6,671.9 L209.0,672.4 L210.5,673.0 L211.9,673.6 L213.3,674.2 L214.5,675.1 L215.6,676.1 L216.4,677.2 L217.0,678.5 L217.3,679.9 L217.4,681.4 L217.3,682.9 L217.1,684.5 L216.9,686.0 L216.6,687.5 L216.5,688.9 L216.5,690.2 L216.8,691.5 L217.2,692.7 L217.8,693.8 L218.6,695.0 L219.6,696.1 L220.6,697.3 L221.5,698.6 L222.4,699.9 L223.0,701.2 L223.5,702.6 Z" fill="#4a7fc4" stroke="#243e6a" stroke-width="2.2" stroke-linejoin="round"/><circle cx="170" cy="704" r="46" fill="none" stroke="#6f9ad4" stroke-width="2" opacity=".7"/><circle cx="170" cy="704" r="41" fill="#fbfbfa" stroke="#243e6a" stroke-width="2.2"/>
<circle cx="75.5" cy="571" r="8.5" fill="none" stroke="#1f1f1f" stroke-width="1.6"/><text x="75.5" y="576" font-size="13" font-family="Liberation Sans" font-weight="bold" fill="#1f1f1f" text-anchor="middle">1</text>
<text x="76" y="596.5" font-size="14" font-family="Liberation Sans" font-weight="bold" fill="#1f1f1f" text-anchor="middle">Define</text><text x="76" y="611" font-size="13.5" font-family="Liberation Sans" font-weight="bold" fill="#1f1f1f" text-anchor="middle">Segments</text>
<circle cx="170" cy="674" r="8.5" fill="none" stroke="#1f1f1f" stroke-width="1.6"/><text x="170" y="679" font-size="13" font-family="Liberation Sans" font-weight="bold" fill="#1f1f1f" text-anchor="middle">6</text>
<text x="170" y="699" font-size="13.5" font-family="Liberation Sans" font-weight="bold" fill="#1f1f1f" text-anchor="middle">Design</text><text x="169" y="714" font-size="13" font-family="Liberation Sans" font-weight="bold" fill="#1f1f1f" text-anchor="middle">Engagement</text><text x="170" y="728" font-size="13.5" font-family="Liberation Sans" font-weight="bold" fill="#1f1f1f" text-anchor="middle">Loops</text>
<circle cx="115" cy="628" r="15" fill="#62bb55" stroke="#234a22" stroke-width="2"/><path d="M107,629 L113,636 L130,618" fill="none" stroke="#234a22" stroke-width="6.5" stroke-linecap="round" stroke-linejoin="round"/><path d="M107,629 L113,636 L130,618" fill="none" stroke="#7fd06a" stroke-width="3.5" stroke-linecap="round" stroke-linejoin="round"/>
<circle cx="211" cy="738" r="15" fill="#62bb55" stroke="#234a22" stroke-width="2"/><path d="M203,739 L209,746 L226,728" fill="none" stroke="#234a22" stroke-width="6.5" stroke-linecap="round" stroke-linejoin="round"/><path d="M203,739 L209,746 L226,728" fill="none" stroke="#7fd06a" stroke-width="3.5" stroke-linecap="round" stroke-linejoin="round"/>
<path d="M-4,600 L2,606 L14,590" fill="none" stroke="#5dbb55" stroke-width="4" stroke-linecap="round" stroke-linejoin="round"/>
<path d="M80,717 L87,725 L102,711" fill="none" stroke="#5dbb55" stroke-width="4" stroke-linecap="round" stroke-linejoin="round"/>
<!--BADGES_END--></g>
<!-- CHURN -->
<g id="churn">
 <defs><linearGradient id="chg" x1="0" x2="1"><stop offset="0" stop-color="#62bfd2"/><stop offset="1" stop-color="#4a9fdb"/></linearGradient></defs>
 <path d="M334,646 L363.5,674 L377,665 L403,690 L420,677 L452,708 L456,728 L334,728 Z" fill="#d5eaf6"/>
 <path d="M359,672 V728 M381.6,668 V728 M405,688 V728 M428.4,683 V728 M451.4,707 V728" stroke="#5d7d9c" stroke-width="1.3"/>
 <path d="M333.6,632 V728.7 H477.7" fill="none" stroke="#262626" stroke-width="2.4"/>
 <path d="M334,639 L363.5,668 L377,659 L403,684 L420,671 L455,706" fill="none" stroke="#1f3a4c" stroke-width="12.5" stroke-linejoin="miter"/>
 <path d="M334,639 L363.5,668 L377,659 L403,684 L420,671 L455,706" fill="none" stroke="url(#chg)" stroke-width="9" stroke-linejoin="miter"/>
 <path d="M449.6,715 L467.7,696 L474,719 Z" fill="#4a9fdb" stroke="#1f3a4c" stroke-width="2" stroke-linejoin="round"/>
 <path d="M428.5,648 V661 M424,656 L428.5,661.5 L433,656" fill="none" stroke="#2b5d95" stroke-width="2"/>
 <text x="437.5" y="662.6" font-size="21.5" font-weight="bold" fill="#2b5d95" textLength="43" lengthAdjust="spacingAndGlyphs">23%</text>
</g>
<!-- CLV -->
<g id="clv">
 <defs><linearGradient id="clvg" x1="544" y1="0" x2="658" y2="0" gradientUnits="userSpaceOnUse"><stop offset="0" stop-color="#1f4a32"/><stop offset=".4" stop-color="#34a08a"/><stop offset="1" stop-color="#49a6d8"/></linearGradient></defs>
 <g stroke="#262626" stroke-width="1.8">
  <rect x="545" y="708" width="20" height="20.5" fill="#f07a3a"/>
  <rect x="576" y="697" width="20" height="31.5" fill="#f5c63c"/>
  <rect x="609" y="681" width="20" height="47.5" fill="#64b854"/>
  <rect x="641" y="661" width="19" height="67.5" fill="#3d86cc"/>
 </g>
 <path d="M535,728.7 H670" stroke="#262626" stroke-width="2.4"/>
 <path d="M543,688.5 C580,679 612,663 640,638 L635,632.5 L658,628 L652.5,650 L647,644.5 C618,671 581,687 543,688.5 Z" fill="url(#clvg)" stroke="#1f2f26" stroke-width="1.7" stroke-linejoin="round"/>
 <path d="M568.5,651 V636 M564.5,641 L568.5,635.5 L572.5,641" fill="none" stroke="#3aa04a" stroke-width="2.2"/>
 <text x="577.5" y="650.5" font-size="21.5" font-weight="bold" fill="#232826" textLength="40" lengthAdjust="spacingAndGlyphs">41%</text>
</g>
<!-- NPS -->
<g id="nps">
 <g stroke="#262626" stroke-width="2">
  <circle cx="739.5" cy="706" r="23" fill="#ef7657"/>
  <circle cx="802" cy="706" r="23" fill="#f5cf45"/>
  <circle cx="864.5" cy="706" r="23" fill="#70c25b"/>
 </g>
 <g fill="none" stroke="#262626" stroke-width="2" stroke-linecap="round">
  <path d="M728,702 q4,-5 8,0 M743,702 q4,-5 8,0 M729,711 q10.5,10 21,0"/>
  <path d="M790.5,702 q4,-5 8,0 M805.5,702 q4,-5 8,0 M791.5,711 q10.5,10 21,0"/>
  <path d="M853,702 q4,-5 8,0 M868,702 q4,-5 8,0 M854,711 q10.5,10 21,0"/>
  <path d="M766,706 h9 M771.5,702.5 l3.5,3.5 l-3.5,3.5 M828.5,706 h9 M834,702.5 l3.5,3.5 l-3.5,3.5" stroke-width="1.8"/>
 </g>
 <g font-size="22" font-weight="bold" fill="#1c1c1c" text-anchor="middle">
  <text x="739.5" y="677">58</text><text x="802" y="677">72</text><text x="864.5" y="677">89</text>
 </g>
</g>
<!-- CO-CREATION -->
<g id="cocreation">
 <g stroke="#f0c850" stroke-width="2.6" stroke-linecap="round">
  <path d="M1071,625 V632 M1055,629 L1058,636 M1087,629 L1084,636 M1042,641 L1048,644 M1100,641 L1094,644 M1036,658 H1043 M1099,658 H1106 M1045,674 L1050,671 M1097,674 L1092,671"/>
 </g>
 <path d="M1063,686 C1062,676 1051,668 1051,655 C1051,645 1060,639 1071,639 C1082,639 1091,645 1091,655 C1091,668 1080,676 1080,686 Z" fill="#f5cf3e" stroke="#262626" stroke-width="2.2" stroke-linejoin="round"/>
 <path d="M1066,684 L1064,662 Q1066,658 1069,662 Q1071,658 1073,662 Q1076,658 1078,662 L1076,684" fill="none" stroke="#262626" stroke-width="1.6"/>
 <g stroke="#262626" stroke-width="2">
  <circle cx="1040" cy="690.5" r="9.5" fill="#6e6766"/>
  <path d="M1022.5,722 C1022.5,708 1030,702 1039,702 C1048,702 1055.5,708 1055.5,722 Z" fill="#4b6ba9"/>
  <circle cx="1102.8" cy="690.5" r="9.5" fill="#e38b52"/>
  <path d="M1087.5,722 C1087.5,708 1095,702 1104,702 C1113,702 1121,708 1121,722 Z" fill="#5cab4b"/>
  <circle cx="1071.3" cy="695.5" r="10.5" fill="#4a89c9"/>
  <path d="M1051.5,729 C1051.5,714 1060,707.5 1071,707.5 C1082,707.5 1090,714 1090,729 Z" fill="#4a89c9"/>
 </g>
</g>
<!-- ROBOT (self-service) -->
<g id="robot" stroke="#262626" stroke-width="2">
 <path d="M1071,369 V381" />
 <circle cx="1071" cy="364" r="5" fill="#7dbcd6"/>
 <rect x="1062" y="379" width="18" height="7" rx="2" fill="#7dbcd6"/>
 <rect x="1029" y="400" width="10" height="26" rx="4" fill="#5d99c6"/>
 <rect x="1105" y="400" width="10" height="26" rx="4" fill="#5d99c6"/>
 <rect x="1037" y="385" width="71" height="51" rx="7" fill="#d3d6da"/>
 <circle cx="1057" cy="404" r="6" fill="#8fd0e6"/>
 <circle cx="1087" cy="404" r="6" fill="#8fd0e6"/>
 <circle cx="1057" cy="404" r="1.5" fill="#262626" stroke="none"/>
 <circle cx="1087" cy="404" r="1.5" fill="#262626" stroke="none"/>
 <rect x="1052" y="418" width="39" height="8" rx="3" fill="#8fd0e6"/>
</g>
<!-- COMMUNITIES -->
<g id="communities" stroke="#262626" stroke-width="2">
 <path d="M1062,522 L1058,530 L1068,522 H1084 Q1092,522 1092,514 V508 Q1092,500 1084,500 H1058 Q1050,500 1050,508 V514 Q1050,522 1058,522 Z" fill="#f7f7f7" stroke-linejoin="round"/>
 <g fill="#4b86c9" stroke="none"><circle cx="1063" cy="512" r="2"/><circle cx="1071" cy="512" r="2"/><circle cx="1079" cy="512" r="2"/></g>
 <circle cx="1047" cy="533" r="9" fill="#63ad4d"/>
 <path d="M1030,566 C1030,552 1038,545 1047,545 C1056,545 1064,552 1064,566 Z" fill="#63ad4d"/>
 <circle cx="1099" cy="533" r="9" fill="#ee8a3c"/>
 <path d="M1082,566 C1082,552 1090,545 1099,545 C1108,545 1116,552 1116,566 Z" fill="#ee8a3c"/>
 <circle cx="1071" cy="546" r="11" fill="#4b7fc7"/>
 <path d="M1051,583 C1051,568 1060,560 1071,560 C1082,560 1091,568 1091,583 Z" fill="#4b7fc7"/>
</g>
<!-- AUTOMATION ROBOT (right edge) -->
<g id="robot2" stroke="#262626" stroke-width="2">
 <circle cx="1200" cy="420.5" r="3" fill="#262626"/>
 <path d="M1162,503 Q1162,490 1176,490 H1212 V503 Z" fill="#d3d6da"/>
 <rect x="1164" y="450" width="10" height="21" rx="4" fill="#5d99c6"/>
 <rect x="1172" y="438" width="43" height="48" rx="7" fill="#d3d6da"/>
 <circle cx="1189" cy="455.5" r="5" fill="#8fd0e6"/>
 <circle cx="1189" cy="455.5" r="1.3" fill="#262626" stroke="none"/>
 <path d="M1194,472 H1205"/>
</g>
<text class="lb" x="1154" y="526" style="text-anchor:start">Automated</text>
<text class="lb" x="1166" y="548.5" style="text-anchor:start">Services</text>

<rect x="195" y="462" width="205" height="20" fill="url(#fadeUp)"/>
<!-- MAN -->
<defs>
 <pattern id="stripes" width="11" height="10" patternUnits="userSpaceOnUse">
  <rect width="11" height="10" fill="#e6eff9"/>
  <rect x="1" width="2.6" height="10" fill="#7aa2d6"/>
 </pattern>
 <pattern id="stripesD" width="8" height="8" patternUnits="userSpaceOnUse" patternTransform="rotate(25)">
  <rect width="8" height="8" fill="#e3edf8"/>
  <rect x="1" width="2.4" height="8" fill="#7ea3d4"/>
 </pattern>
 <linearGradient id="cellg" x1="0" y1="0" x2="1" y2="1">
  <stop offset="0" stop-color="#d3e4f2"/><stop offset=".5" stop-color="#e0ecf6"/><stop offset="1" stop-color="#cfe1f1"/>
 </linearGradient>
 <linearGradient id="fadeDown" x1="0" y1="0" x2="0" y2="1"><stop offset="0" stop-color="#f8f7f3"/><stop offset="1" stop-color="#f8f7f3" stop-opacity="0"/></linearGradient>
 <linearGradient id="pantsg" x1="0" y1="0" x2="0" y2="1"><stop offset="0" stop-color="#5a5b60"/><stop offset="1" stop-color="#8d8e92"/></linearGradient>
 <linearGradient id="fadeUp" x1="0" y1="0" x2="0" y2="1"><stop offset="0" stop-color="#f8f7f3" stop-opacity="0"/><stop offset="1" stop-color="#f8f7f3"/></linearGradient>
 <radialGradient id="yel" cx=".5" cy=".5" r=".6">
  <stop offset="0" stop-color="#fcebb0"/><stop offset="1" stop-color="#f5d37c"/>
 </radialGradient>
</defs>
<g id="man">
 <!-- pants -->
 <path d="M512,586 L693,586 L690,614 Q600,619 515,614 Z" fill="url(#pantsg)"/>
 <path d="M512,586 L693,586 L690,616 Q600,622 515,616 Z" fill="none" stroke="#3a3a3a" stroke-width="1.5" opacity=".5"/>
 <!-- lower torso -->
 <path d="M508,555 L694,555 L693,590 Q600,594 510,590 Z" fill="url(#stripes)" stroke="#2a2a2a" stroke-width="2"/>
 <path d="M581,556 L617,556 L606,588 L599,593 L592,588 Z" fill="#2f67b2" stroke="#1e3f6e" stroke-width="1.5"/>
 <!-- shoulders -->
 <path d="M479,350 Q483,337 499,331 L558,309 L644,309 L703,331 Q719,337 723,350 Z" fill="url(#stripes)" stroke="#2a2a2a" stroke-width="2.2"/>
 <!-- neck -->
 <path d="M568,280 L566,292 L600,324 L635,292 L633,280 Z" fill="#efc29e" stroke="#2a2a2a" stroke-width="1.8"/><path d="M575,300 Q600,318 626,300 L600,323 Z" fill="#e2a58a" opacity=".6"/>
 <!-- collar -->
 <path d="M562,289 L567,290 L600,323 L587,327 L575,345 L557,309 Z" fill="#f8fafc" stroke="#2a2a2a" stroke-width="2" stroke-linejoin="round"/>
 <path d="M638,289 L633,290 L600,323 L613,327 L625,345 L643,309 Z" fill="#f8fafc" stroke="#2a2a2a" stroke-width="2" stroke-linejoin="round"/>
 <path d="M587,326 L600,323 L613,326 L607,347 L593,347 Z" fill="#3a6fb8" stroke="#1e3f6e" stroke-width="1.5" stroke-linejoin="round"/>
 <!-- ears -->
 <ellipse cx="550" cy="238" rx="9" ry="16" fill="#f2c7a3" stroke="#2a2a2a" stroke-width="2"/>
 <ellipse cx="651" cy="238" rx="9" ry="16" fill="#f2c7a3" stroke="#2a2a2a" stroke-width="2"/>
 <!-- face -->
 <path d="M556,176 L556,245 C558,280 580,301 601,301 C622,301 644,280 645,245 L645,176 Z" fill="#f6d4b4" stroke="#2a2a2a" stroke-width="2"/>
 <!-- hair -->
 <path d="M550.6,226 C546,210 543,195 544,180 C548,165 555,155 562,153 C570,148 578,146 585,145.3 C595,144 602,144 607,144.6 C615,145 620,146 626,147.4 C631,152 635,160 637,164 C645,166 649,168 651,171 C655,180 656,195 655,205 C654,213 653,219 652.4,226 L644,226 C643,210 642,198 638.7,190 C635,183 630,180 626,180.4 C615,181 605,182.5 598.8,182.5 C585,182 576,181 571,181.8 C565,184 561,188 560,193 C558,203 558,213 557.5,226 Z" fill="#6b5445" stroke="#262626" stroke-width="2" stroke-linejoin="round"/>
 <g fill="none" stroke-linecap="round">
  <path d="M556,170 C568,158 590,152 612,156 M562,177 C578,165 600,162 622,167 M548,192 C552,178 560,170 572,166" stroke="#8c7262" stroke-width="2.2" opacity=".8"/>
  <path d="M566,160 C585,150 605,150 625,158 M575,172 C595,162 615,163 632,172 M640,175 C646,185 648,200 648,215" stroke="#4a372c" stroke-width="1.5" opacity=".8"/>
  <path d="M622,147 C624,144 626,142 629,141" stroke="#262626" stroke-width="1.8"/>
 </g>
 <!-- cheeks -->
 <ellipse cx="567" cy="243" rx="10" ry="7" fill="#f2a6a0" opacity=".6"/>
 <ellipse cx="633" cy="243" rx="10" ry="7" fill="#f2a6a0" opacity=".6"/>
 <!-- brows / eyes -->
 <path d="M565,216 Q574,211 587,213 M612.5,213 Q625,211 634.5,216" stroke="#2a2a2a" stroke-width="3.8" fill="none" stroke-linecap="round"/>
 <ellipse cx="579" cy="227.5" rx="3.2" ry="4.2" fill="#1a1a1a"/>
 <ellipse cx="621" cy="227.5" rx="3.2" ry="4.2" fill="#1a1a1a"/>
 <path d="M596,250 Q600,254 605,250" stroke="#8a5a40" stroke-width="1.6" fill="none"/>
 <!-- mouth -->
 <path d="M580,262 Q601,260 621,262 Q614,276 600,276 Q586,276 580,262 Z" fill="#ffffff" stroke="#2a2a2a" stroke-width="2" stroke-linejoin="round"/>
 <path d="M596,282 Q601,283 606,282" stroke="#8a5a40" stroke-width="1.3" fill="none"/>
 <!-- sleeves -->
 <path d="M446,472 L425,474 Q408,490 411,515 Q414,538 430,544 L446,544 Z" fill="url(#stripesD)" stroke="#2a2a2a" stroke-width="2"/>
 <path d="M754,472 L775,474 Q792,490 789,515 Q786,538 770,544 L754,544 Z" fill="url(#stripesD)" stroke="#2a2a2a" stroke-width="2"/>
 <!-- board -->
 <rect x="443" y="348" width="312" height="211" fill="#f4f4f2" stroke="#2a2a2a" stroke-width="2.2"/>
 <text x="599" y="373.5" font-size="16.5" font-weight="bold" fill="#1c1c1c" text-anchor="middle" textLength="187" lengthAdjust="spacingAndGlyphs">Business Model Canvas</text>
 <g stroke="#3c4a5a" stroke-width="1.6" fill="url(#cellg)">
  <rect x="458" y="382" width="88" height="48" rx="1.5"/>
  <rect x="553" y="382" width="93" height="48" rx="1.5"/>
  <rect x="653" y="382" width="87" height="48" rx="1.5"/>
  <rect x="458" y="437" width="88" height="54" rx="1.5"/>
  <rect x="653" y="437" width="87" height="54" rx="1.5"/>
  <rect x="458" y="498" width="88" height="48" rx="1.5"/>
  <rect x="553" y="498" width="93" height="48" rx="1.5"/>
  <rect x="653" y="498" width="87" height="48" rx="1.5"/>
 </g>
 <g stroke="#ffffff" stroke-width="3" opacity=".3">
  <path d="M470,425 L500,390 M510,425 L535,395 M570,425 L600,390 M670,425 L700,390 M470,486 L505,445 M680,486 L715,445 M470,540 L505,505 M570,540 L605,505 M670,540 L705,505"/>
 </g>
 <g fill="none" stroke="#3c4a66" stroke-width="1.4" stroke-linecap="round">
  <path d="M466,397 C462,393 463,388 468,388 C472,388 471,393 467,395 M464,398 L463,401"/>
  <path d="M561,395 C561,390 565,388 570,389"/>
  <path d="M729,389 H737 C739,389 739,394 736,394 H733 V399 M731,394 V398"/>
  <path d="M464,477 V484 H470 M468,481 H472"/>
  <path d="M463,536 H470 M463,540 H472 M465,532 V536"/>
  <path d="M727,537 H736 M734,532 V541 M729,541 H737"/>
 </g>
 <rect x="548" y="431" width="103" height="66" rx="6" fill="#f6d66a" opacity=".45" filter="url(#blur)"/>
 <rect x="553" y="437" width="93" height="54" rx="2" fill="url(#yel)" stroke="#b8902f" stroke-width="1.8"/>
 <g>
  <circle cx="590" cy="446.5" r="3.6" fill="#5a93c2" stroke="#2a3a4a" stroke-width="1"/>
  <path d="M583.5,458 Q584,450.5 590,450.5 Q596,450.5 596.5,458 Z" fill="#5a93c2" stroke="#2a3a4a" stroke-width="1"/>
  <circle cx="600" cy="446.5" r="3.6" fill="#8aa0a8" stroke="#2a3a4a" stroke-width="1"/>
  <path d="M593.5,458 Q594,450.5 600,450.5 Q606,450.5 606.5,458 Z" fill="#8aa0a8" stroke="#2a3a4a" stroke-width="1"/>
  <circle cx="610" cy="446.5" r="3.6" fill="#c9a45a" stroke="#2a3a4a" stroke-width="1"/>
  <path d="M603.5,458 Q604,450.5 610,450.5 Q616,450.5 616.5,458 Z" fill="#c9a45a" stroke="#2a3a4a" stroke-width="1"/>
  <path d="M560,452 L561,444 M557,447 L561,443 L565,446" stroke="#d08a2a" stroke-width="2" fill="none"/>
 </g>
 <text x="599.5" y="472" font-size="12" font-weight="bold" fill="#2a2a2a" text-anchor="middle">Customer</text>
 <text x="599.5" y="486" font-size="12" font-weight="bold" fill="#2a2a2a" text-anchor="middle">Relationships</text>
 <!-- hands -->
 <g fill="#f1c3a0" stroke="#2a2a2a" stroke-width="1.8" stroke-linejoin="round">
  <path d="M428,427 Q419,448 420,468 Q423,486 437,492 L446,492 L446,423 Q434,419 428,427 Z"/>
  <rect x="434" y="423" width="37" height="12" rx="6"/>
  <rect x="434" y="436" width="42" height="12" rx="6"/>
  <rect x="434" y="449" width="39" height="12" rx="6"/>
  <rect x="432" y="461" width="33" height="11" rx="5.5"/>
  <path d="M772,427 Q781,448 780,468 Q777,486 763,492 L754,492 L754,423 Q766,419 772,427 Z"/>
  <rect x="729" y="423" width="37" height="12" rx="6"/>
  <rect x="724" y="436" width="42" height="12" rx="6"/>
  <rect x="727" y="449" width="39" height="12" rx="6"/>
  <rect x="735" y="461" width="33" height="11" rx="5.5"/>
 </g>
 <g fill="#e9b8a0" stroke="none" opacity=".9">
  <ellipse cx="467" cy="429" rx="3" ry="3"/><ellipse cx="472" cy="442" rx="3" ry="3"/><ellipse cx="469" cy="455" rx="3" ry="3"/><ellipse cx="461" cy="466.5" rx="3" ry="3"/>
  <ellipse cx="733" cy="429" rx="3" ry="3"/><ellipse cx="728" cy="442" rx="3" ry="3"/><ellipse cx="731" cy="455" rx="3" ry="3"/><ellipse cx="739" cy="466.5" rx="3" ry="3"/>
 </g>
</g>

<!-- LABELS -->
<text class="lb" x="330" y="262.3">Price</text>
<text class="lb" x="447" y="234">Map</text>
<text class="lb" x="447" y="262.3">Performance</text>
<text class="lb" x="756" y="262.3">Design</text>
<text class="lb" x="875" y="262.3">Convenience</text>
<text class="lb" x="1072" y="272">Personal</text>
<text class="lb" x="1071" y="293">Assistance</text>
<text class="lb" x="1150.5" y="378" style="text-anchor:start">Self-Service</text>
<text class="lb" x="1071" y="465">Self-Service</text>
<text class="lb" x="1072" y="605">Communities</text>
<text class="lb" x="1072" y="754">Co-creation</text>
<text class="lb" x="65" y="502">Mass Market</text>
<text class="lb" x="294" y="502">Niche Specialist</text>
<text class="lb" x="405" y="753">Churn Rate</text>
<text class="lb" x="601" y="753">CLV</text>
<text class="lb" x="601.5" y="770" style="font-size:15px" textLength="171" lengthAdjust="spacingAndGlyphs">(Customer Lifetime Value)</text>
<text class="lb" x="802" y="754">NPS</text>

</svg>
</body></html>
